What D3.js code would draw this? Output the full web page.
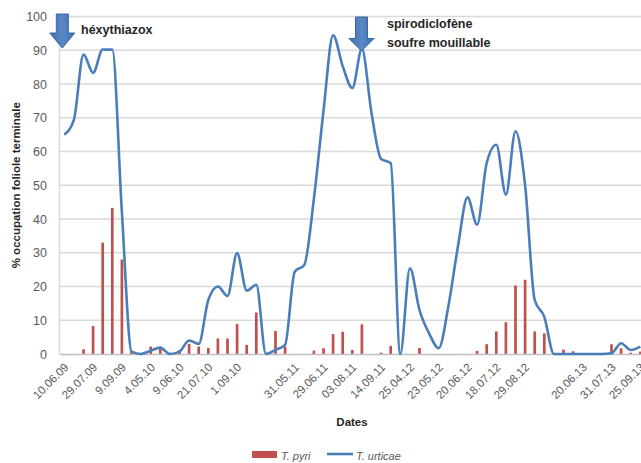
<!DOCTYPE html>
<html>
<head>
<meta charset="utf-8">
<script src="https://cdn.jsdelivr.net/npm/d3@7/dist/d3.min.js"></script>
<style>
    body { margin: 0; background: #fff; }
    svg { display: block; font-family: "Liberation Sans", Arial, sans-serif; }
</style>
</head>
<body>
<div id="chart"></div>
<script>
// dates shown on the axis (Excel shows one category out of three)
const tickLabels = ["10.06.09", "29.07.09", "9.09.09", "4.05.10", "9.06.10", "21.07.10", "1.09.10", "",
    "31.05.11", "29.06.11", "03.08.11", "14.09.11", "25.04.12", "23.05.12", "20.06.12", "18.07.12",
    "29.08.12", "", "20.06.13", "31.07.13", "25.09.13"];
const tickEvery = 3;

// T. pyri (bars)
const pyri = [0, 0, 1.4, 8.3, 33, 43.3, 28, 0.7, 0, 2.2,
    1.5, 0, 1.2, 3, 2.2, 1.8, 4.6, 4.6, 8.9, 2.7,
    12.3, 0, 6.8, 2.2, 0, 0, 1, 1.7, 5.9, 6.6,
    1.2, 8.8, 0, 0.4, 2.4, 0, 0, 1.8, 0, 0,
    0, 0, 0, 0.9, 2.9, 6.7, 9.4, 20.3, 22, 6.7,
    6.1, 0, 1.3, 0.8, 0, 0.3, 0, 2.9, 1.7, 0.4, 0.7];

// T. urticae (smoothed line)
const urticae = [65, 69.4, 88.7, 83.3, 90.2, 90.2, 42, 0.7, 0, 1,
    1.9, 0, 0.7, 4, 3, 16, 20, 17.2, 29.9, 18.8,
    20.5, 0, 1.2, 2.7, 24.4, 26.4, 46, 72, 94.4, 85.3,
    78.8, 90.4, 71.4, 57.8, 56.6, 0, 25.4, 13, 6.1, 1.7,
    14, 31.8, 46.4, 38.3, 56.6, 62, 47.2, 66, 50, 16,
    11, 0, 0, 0, 0, 0, 0, 0.2, 3.2, 1.2, 2.2];

const yTicks = d3.range(0, 101, 10);
const seriesNames = ["T. pyri", "T. urticae"];
const treatment1 = ["héxythiazox"];
const treatment2 = ["spirodiclofène", "soufre mouillable"];

class Chart {
    constructor() {
        this._width = 641;
        this._height = 463;
        this._margins = {top: 16.5, left: 59.5, bottom: 109};
        this._step = 9.6;      // width of one category
        this._nCat = 62;       // the plot runs past the right edge of the picture
        this._svg = null;
        this._body = null;
        this._colors = {bar: "#C0504D", line: "#4A7EBB", grid: "#D9D9D9", text: "#595959"};
    }

    getBodyWidth() { return this._nCat * this._step; }
    getBodyHeight() { return this._height - this._margins.top - this._margins.bottom; }

    scales() {
        this._scaleX = d3.scaleBand()
            .domain(d3.range(this._nCat))
            .range([0, this.getBodyWidth()])
            .paddingInner(0.72)
            .paddingOuter(0.36);
        this._scaleY = d3.scaleLinear().domain([0, 100]).range([this.getBodyHeight(), 0]);
    }

    cx(i) { return this._scaleX(i) + this._scaleX.bandwidth() / 2; }

    renderGrid() {
        const y = this._scaleY;
        this._body.append("g").selectAll("line")
            .data(yTicks.filter(d => d > 0))
            .join("line")
            .attr("x1", 0).attr("x2", this.getBodyWidth())
            .attr("y1", d => y(d)).attr("y2", d => y(d))
            .attr("stroke", this._colors.grid).attr("stroke-width", 1.5);
        this._body.append("line")
            .attr("x1", 0).attr("x2", 0).attr("y1", 0).attr("y2", this.getBodyHeight())
            .attr("stroke", this._colors.grid).attr("stroke-width", 1.5);
    }

    renderAxes() {
        const y = this._scaleY, h = this.getBodyHeight();
        const yAxis = d3.axisLeft(y).tickValues(yTicks).tickSize(0).tickPadding(12);
        const gy = this._body.append("g").call(yAxis);
        gy.select(".domain").remove();
        gy.selectAll("text").attr("fill", this._colors.text).style("font-size", "12.5px").attr("x", -12.5);

        const shown = d3.range(0, this._nCat, tickEvery).slice(0, tickLabels.length);
        const xAxis = d3.axisBottom(this._scaleX).tickValues(shown)
            .tickFormat(i => tickLabels[i / tickEvery]).tickSize(0);
        const gx = this._body.append("g").attr("transform", `translate(0,${h})`).call(xAxis);
        gx.select(".domain").attr("stroke", "#BFBFBF").attr("stroke-width", 1.5);
        gx.selectAll("text")
            .attr("fill", this._colors.text)
            .style("font-size", "11.5px")
            .attr("text-anchor", "end")
            .attr("dy", 0)
            .attr("y", 0)
            .attr("transform", "translate(5,14) rotate(-45)");
    }

    renderBars() {
        const x = this._scaleX, y = this._scaleY;
        this._body.append("g").selectAll("rect")
            .data(pyri)
            .join("rect")
            .attr("x", (d, i) => x(i))
            .attr("y", d => y(d))
            .attr("width", x.bandwidth())
            .attr("height", d => y(0) - y(d))
            .attr("fill", this._colors.bar);
    }

    renderLine() {
        const y = this._scaleY;
        const line = d3.line()
            .x((d, i) => this.cx(i))
            .y(d => y(d))
            .curve(d3.curveMonotoneX);
        this._body.append("path")
            .datum(urticae)
            .attr("d", line)
            .attr("fill", "none")
            .attr("stroke", this._colors.line)
            .attr("stroke-width", 2.6)
            .attr("stroke-linejoin", "round");
    }

    arrow(cx, top, neck, tip) {
        const sw = 6, hw = 12.5;
        return `M${cx - sw},${top}H${cx + sw}V${neck}H${cx + hw}L${cx},${tip}L${cx - hw},${neck}H${cx - sw}Z`;
    }

    renderAnnotations() {
        const defs = this._svg.append("defs");
        const grad = defs.append("linearGradient").attr("id", "arrowFill")
            .attr("x1", 0).attr("x2", 1).attr("y1", 0).attr("y2", 0);
        grad.append("stop").attr("offset", "0%").attr("stop-color", "#3F70B0");
        grad.append("stop").attr("offset", "50%").attr("stop-color", "#5A88C6");
        grad.append("stop").attr("offset", "100%").attr("stop-color", "#3F70B0");

        const g = this._svg.append("g");
        const x0 = this._margins.left;
        g.append("path").attr("d", this.arrow(x0 + this.cx(0) - 2, 14, 33, 48))
            .attr("fill", "url(#arrowFill)").attr("stroke", "#3A66A0").attr("stroke-width", 1);
        g.append("path").attr("d", this.arrow(x0 + this.cx(32) - 10, 17, 38.5, 51))
            .attr("fill", "url(#arrowFill)").attr("stroke", "#3A66A0").attr("stroke-width", 1);

        g.append("text").attr("x", 81).attr("y", 34)
            .style("font-size", "12.5px").style("font-weight", "bold").attr("fill", "#262626")
            .text(treatment1[0]);
        g.selectAll(".t2").data(treatment2).join("text")
            .attr("x", 387).attr("y", (d, i) => 27.5 + i * 19)
            .style("font-size", "12.5px").style("font-weight", "bold").attr("fill", "#262626")
            .text(d => d);
    }

    renderTitles() {
        const midY = this._margins.top + this.getBodyHeight() / 2;
        this._svg.append("text")
            .attr("transform", `translate(20,${midY}) rotate(-90)`)
            .attr("text-anchor", "middle")
            .style("font-size", "11.5px").style("font-weight", "bold").attr("fill", "#262626")
            .text("% occupation foliole terminale");
        this._svg.append("text")
            .attr("x", 352).attr("y", 426)
            .attr("text-anchor", "middle")
            .style("font-size", "11.5px").style("font-weight", "bold").attr("fill", "#262626")
            .text("Dates");
    }

    renderLegend() {
        // kept a little higher than in the reference so that the texts stay inside the picture
        const g = this._svg.append("g").attr("transform", "translate(252,451)");
        g.append("rect").attr("x", 0).attr("y", 0).attr("width", 25).attr("height", 7)
            .attr("fill", this._colors.bar);
        g.append("text").attr("x", 29).attr("y", 8.5)
            .style("font-size", "11px").style("font-style", "italic").attr("fill", this._colors.text)
            .text(seriesNames[0]);
        g.append("line").attr("x1", 75).attr("x2", 101).attr("y1", 3).attr("y2", 3)
            .attr("stroke", this._colors.line).attr("stroke-width", 2.6);
        g.append("text").attr("x", 104).attr("y", 8.5)
            .style("font-size", "11px").style("font-style", "italic").attr("fill", this._colors.text)
            .text(seriesNames[1]);
    }

    renderChart() {
        this._svg = d3.select("#chart").append("svg")
            .attr("width", this._width)
            .attr("height", this._height);
        this.scales();
        this._body = this._svg.append("g")
            .attr("transform", `translate(${this._margins.left},${this._margins.top})`);
        this.renderGrid();
        this.renderBars();
        this.renderAxes();
        this.renderLine();
        this.renderAnnotations();
        this.renderTitles();
        this.renderLegend();
    }
}

new Chart().renderChart();
</script>
</body>
</html>
